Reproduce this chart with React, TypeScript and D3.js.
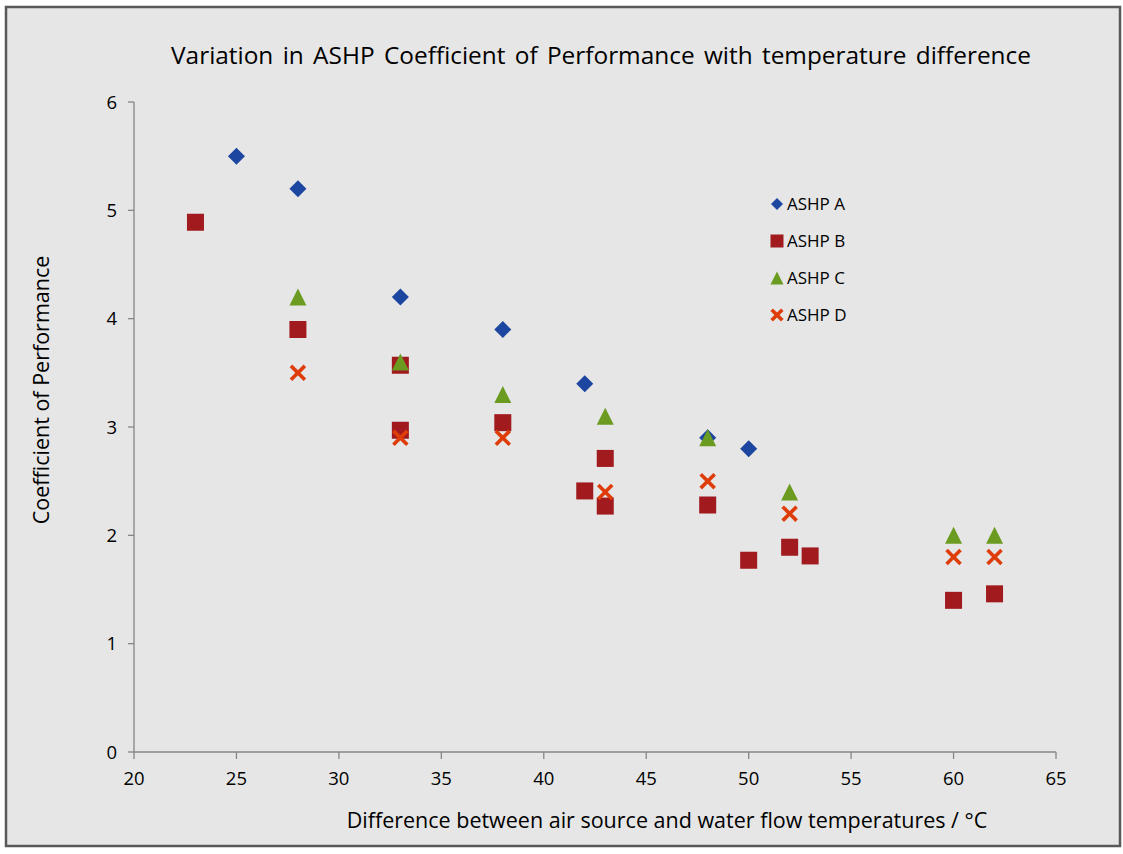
import React from "react";
import * as d3 from "d3";

const xTicks = [20, 25, 30, 35, 40, 45, 50, 55, 60, 65];
const yTicks = [0, 1, 2, 3, 4, 5, 6];

const ashpA: [number, number][] = [[25, 5.5], [28, 5.2], [33, 4.2], [38, 3.9], [42, 3.4], [48, 2.9], [50, 2.8]];
const ashpB: [number, number][] = [[23, 4.89], [28, 3.9], [33, 3.57], [33, 2.97], [38, 3.04], [42, 2.41], [43, 2.71], [43, 2.27], [48, 2.28], [50, 1.77], [52, 1.89], [53, 1.81], [60, 1.4], [62, 1.46]];
const ashpC: [number, number][] = [[28, 4.2], [33, 3.6], [38, 3.3], [43, 3.1], [48, 2.9], [52, 2.4], [60, 2.0], [62, 2.0]];
const ashpD: [number, number][] = [[28, 3.5], [33, 2.9], [38, 2.9], [43, 2.4], [48, 2.5], [52, 2.2], [60, 1.8], [62, 1.8]];

const seriesNames = ["ASHP A", "ASHP B", "ASHP C", "ASHP D"];

const W = 1123, H = 854;
const FONT = "'Open Sans', 'DejaVu Sans', sans-serif";

function Marker({ kind, x, y, s }: { kind: number; x: number; y: number; s: number }) {
  const h = s / 2;
  if (kind === 0) {
    return <path d={`M${x},${y - h}L${x + h},${y}L${x},${y + h}L${x - h},${y}Z`} fill="#1c46a0" />;
  }
  if (kind === 1) {
    return <rect x={x - h} y={y - h} width={s} height={s} fill="#a01a1e" />;
  }
  if (kind === 2) {
    return <path d={`M${x},${y - h}L${x + h},${y + h}L${x - h},${y + h}Z`} fill="#6b9b20" />;
  }
  const k = h * 0.82;
  return (
    <g stroke="#de3d0a" strokeWidth={3.6} strokeLinecap="butt">
      <line x1={x - k} y1={y - k} x2={x + k} y2={y + k} />
      <line x1={x - k} y1={y + k} x2={x + k} y2={y - k} />
    </g>
  );
}

export default function App() {
  const x = d3.scaleLinear().domain([20, 65]).range([134, 1056]);
  const y = d3.scaleLinear().domain([0, 6]).range([752, 102]);
  const all = [ashpA, ashpB, ashpC, ashpD];
  const axisColor = "#868686";
  const legendY = [204, 241, 278, 315];
  return (
    <svg width={W} height={H} style={{ position: "absolute", left: 0, top: 0, background: "#fff" }}>
      <rect x={6} y={7} width={1114} height={839} fill="#e6e6e6" stroke="#595959" strokeWidth={2.5} />
      <text x={601} y={64} textAnchor="middle" fontFamily={FONT} fontSize={24.4} fill="#000" wordSpacing={3}>
        Variation in ASHP Coefficient of Performance with temperature difference
      </text>
      {/* axes */}
      <line x1={x(20)} x2={x(65)} y1={y(0)} y2={y(0)} stroke={axisColor} strokeWidth={1.3} />
      <line x1={x(20)} x2={x(20)} y1={y(0)} y2={y(6)} stroke={axisColor} strokeWidth={1.3} />
      {xTicks.map((t) => (
        <g key={"x" + t}>
          <line x1={x(t)} x2={x(t)} y1={y(0)} y2={y(0) + 7} stroke={axisColor} strokeWidth={1.3} />
          <text x={x(t)} y={y(0) + 33} textAnchor="middle" fontFamily={FONT} fontSize={18.5} fill="#000">{t}</text>
        </g>
      ))}
      {yTicks.map((t) => (
        <g key={"y" + t}>
          <line x1={x(20) - 6} x2={x(20)} y1={y(t)} y2={y(t)} stroke={axisColor} strokeWidth={1.3} />
          <text x={x(20) - 17} y={y(t) + 6.5} textAnchor="end" fontFamily={FONT} fontSize={18.5} fill="#000">{t}</text>
        </g>
      ))}
      <text x={667} y={828} textAnchor="middle" fontFamily={FONT} fontSize={21.5} fill="#000">
        Difference between air source and water flow temperatures / °C
      </text>
      <text transform="translate(49,390) rotate(-90)" textAnchor="middle" fontFamily={FONT} fontSize={21.5} fill="#000">
        Coefficient of Performance
      </text>
      {all.map((s, i) => (
        <g key={"s" + i}>
          {s.map((d, j) => (
            <Marker key={j} kind={i} x={x(d[0])} y={y(d[1])} s={17} />
          ))}
        </g>
      ))}
      {seriesNames.map((n, i) => (
        <g key={"l" + i}>
          <Marker kind={i} x={777} y={legendY[i]} s={i === 0 ? 12 : 13} />
          <text x={787} y={legendY[i] + 6} fontFamily={FONT} fontSize={17} fill="#000">{n}</text>
        </g>
      ))}
    </svg>
  );
}
